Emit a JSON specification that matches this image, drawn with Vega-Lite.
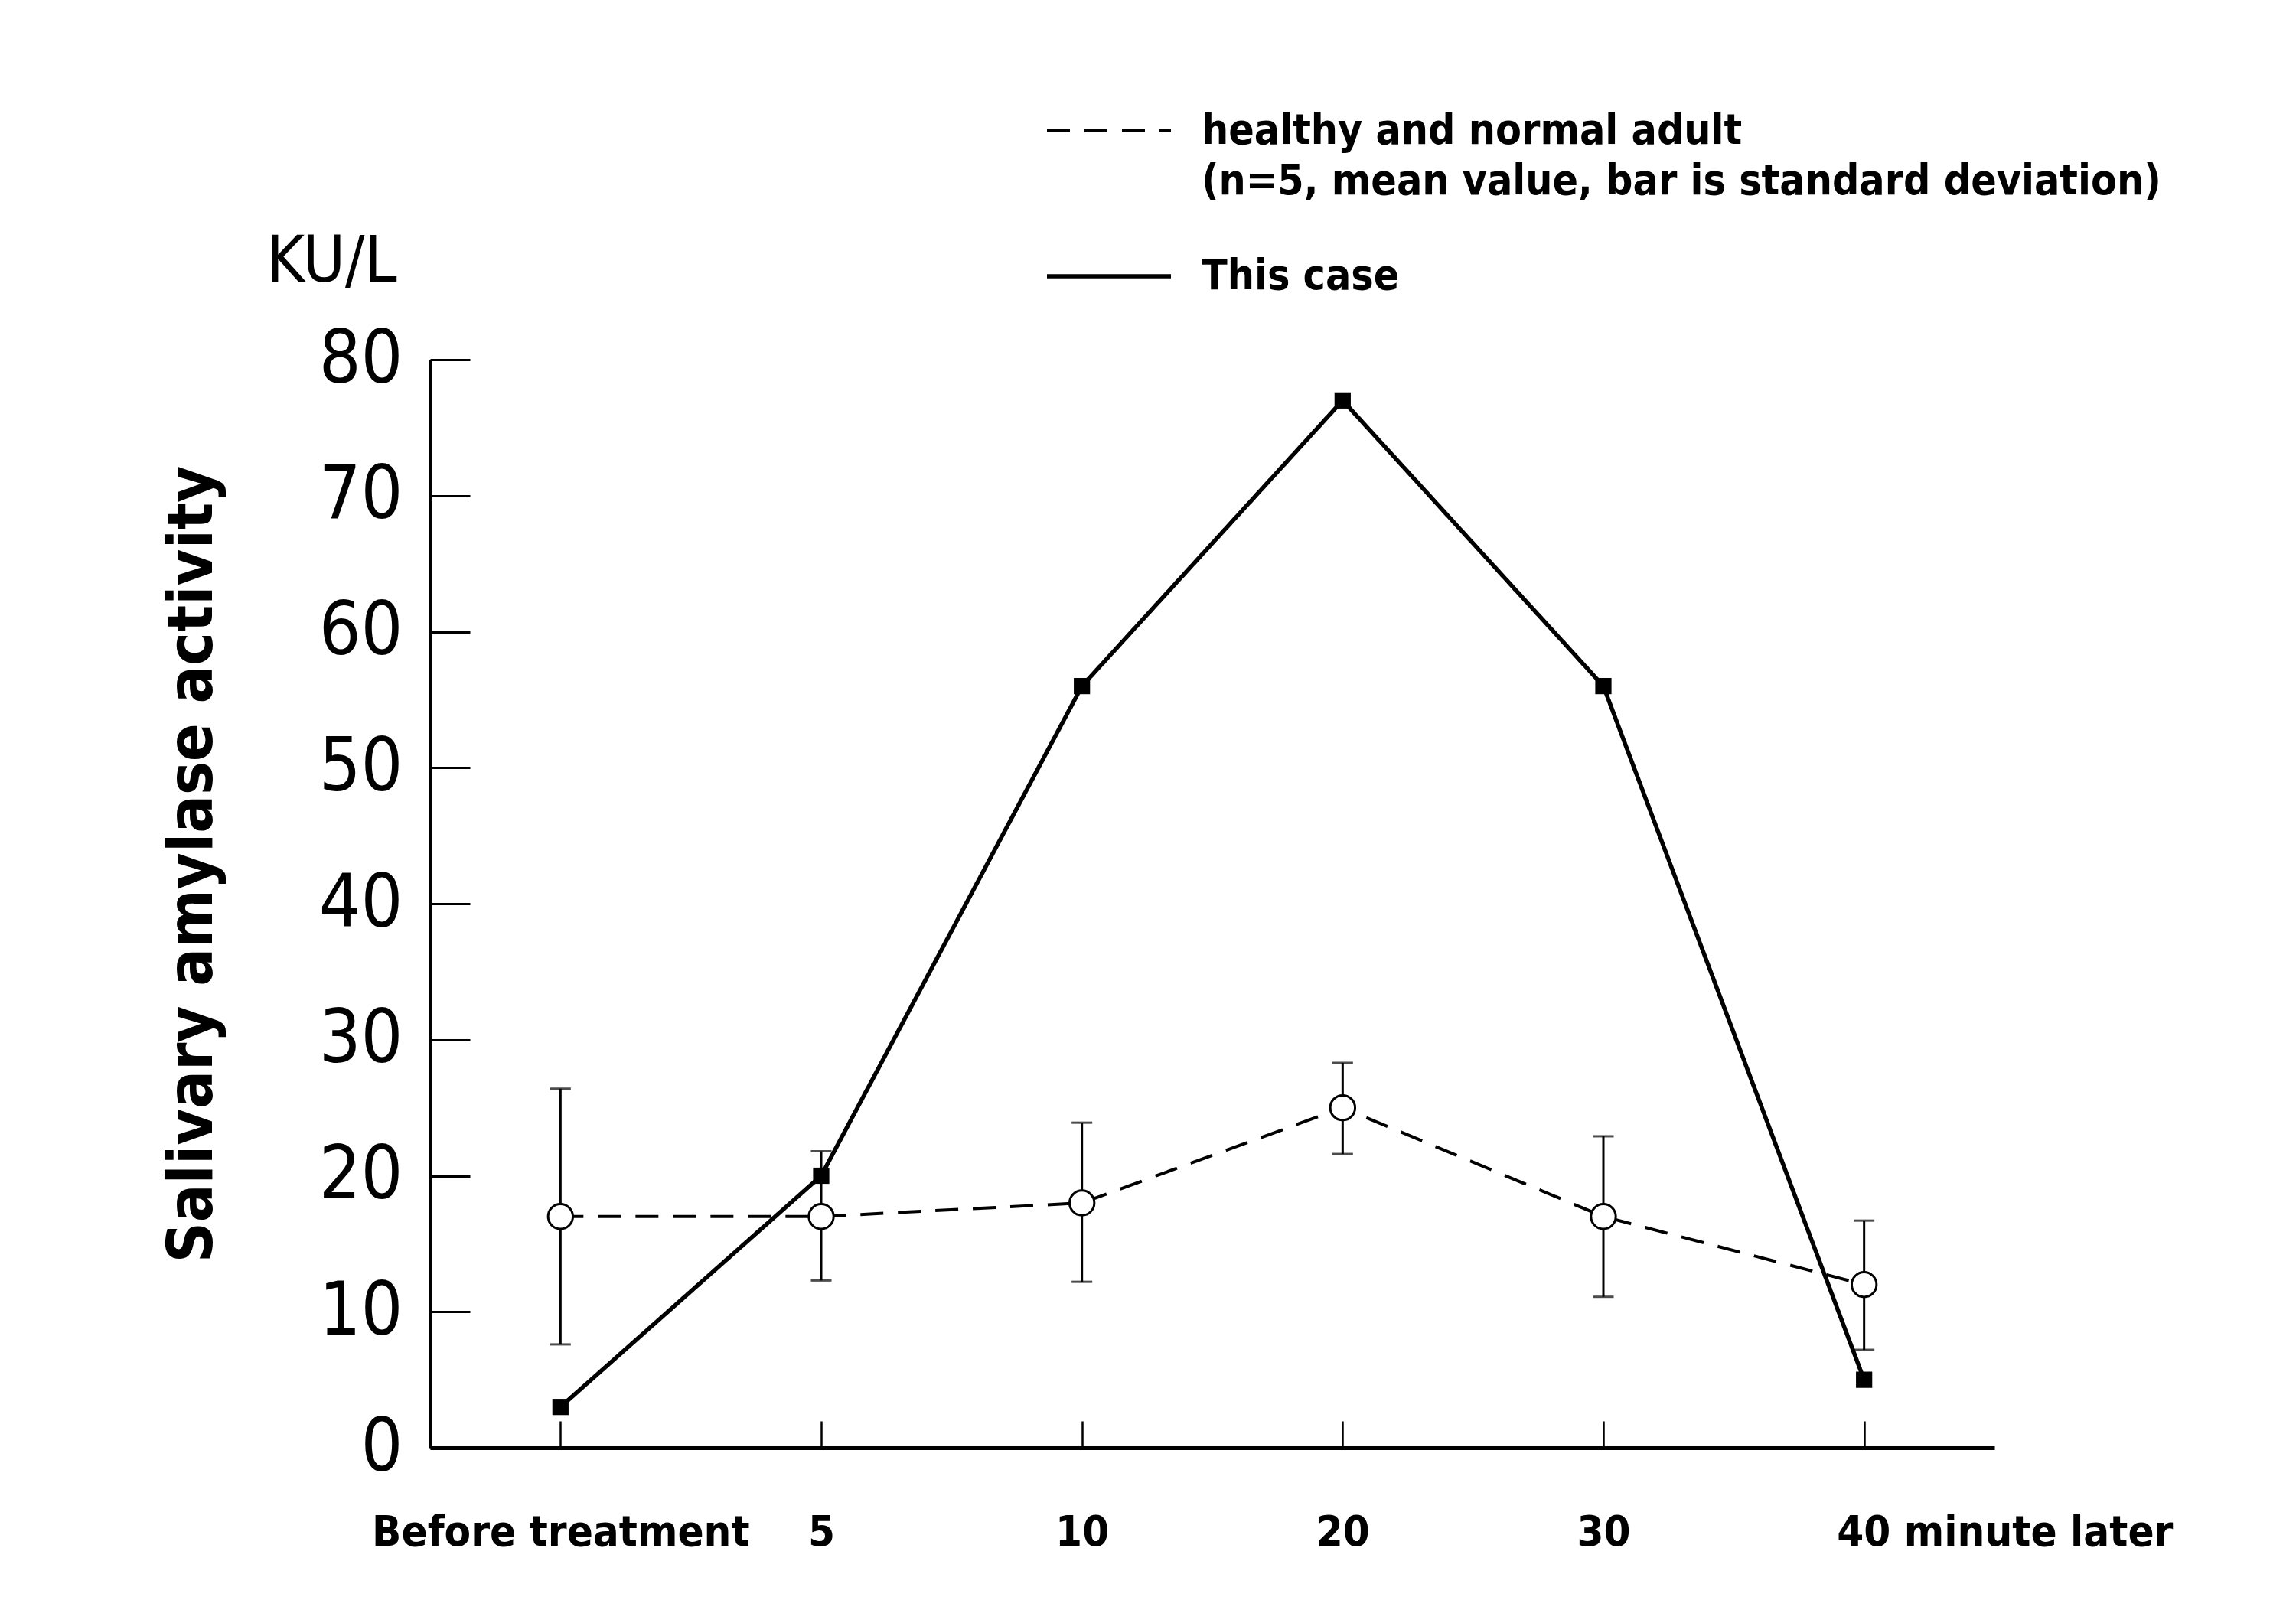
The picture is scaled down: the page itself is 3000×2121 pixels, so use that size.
{
  "$schema": "https://vega.github.io/schema/vega-lite/v6.json",
  "autosize": {"type": "none"},
  "padding": {"left": 562, "top": 470, "right": 394, "bottom": 229},
  "width": 2044,
  "height": 1422,
  "background": "white",
  "data": {
    "values": [
      {"time": "Before treatment", "series": "healthy and normal adult", "value": 17, "low": 7.6, "high": 26.4},
      {"time": "5", "series": "healthy and normal adult", "value": 17, "low": 12.3, "high": 21.8},
      {"time": "10", "series": "healthy and normal adult", "value": 18, "low": 12.2, "high": 23.9},
      {"time": "20", "series": "healthy and normal adult", "value": 25, "low": 21.6, "high": 28.3},
      {"time": "30", "series": "healthy and normal adult", "value": 17, "low": 11.1, "high": 22.9},
      {"time": "40", "series": "healthy and normal adult", "value": 12, "low": 7.2, "high": 16.7},
      {"time": "Before treatment", "series": "This case", "value": 3},
      {"time": "5", "series": "This case", "value": 20},
      {"time": "10", "series": "This case", "value": 56},
      {"time": "20", "series": "This case", "value": 77},
      {"time": "30", "series": "This case", "value": 56},
      {"time": "40", "series": "This case", "value": 5}
    ]
  },
  "encoding": {
    "x": {
      "field": "time",
      "type": "ordinal",
      "sort": ["Before treatment", "5", "10", "20", "30", "40"],
      "scale": {"type": "point", "padding": 0.5},
      "axis": {
        "title": null,
        "domainColor": "black",
        "domainWidth": 5,
        "tickColor": "black",
        "tickSize": -35,
        "tickWidth": 2.5,
        "labelAngle": 0,
        "labelColor": "black",
        "labelFont": "Liberation Sans Narrow, DejaVu Sans Condensed, sans-serif",
        "labelFontSize": 56,
        "labelFontWeight": "bold",
        "labelPadding": 118,
        "labelLimit": 0,
        "labelExpr": "datum.value == '40' ? '40 minute later' : datum.label",
        "labelAlign": {"condition": {"test": "datum.value == '40'", "value": "left"}, "value": "center"},
        "labelOffset": {"condition": {"test": "datum.value == '40'", "value": -36}, "value": 0}
      }
    }
  },
  "layer": [
    {
      "transform": [{"filter": "datum.series == 'healthy and normal adult'"}],
      "mark": {"type": "rule", "color": "black", "strokeWidth": 3},
      "encoding": {
        "y": {"field": "low", "type": "quantitative", "axis": null},
        "y2": {"field": "high"}
      }
    },
    {
      "transform": [{"filter": "datum.series == 'healthy and normal adult'"}],
      "mark": {"type": "tick", "color": "black", "size": 27, "thickness": 3},
      "encoding": {"y": {"field": "low", "type": "quantitative", "axis": null}}
    },
    {
      "transform": [{"filter": "datum.series == 'healthy and normal adult'"}],
      "mark": {"type": "tick", "color": "black", "size": 27, "thickness": 3},
      "encoding": {"y": {"field": "high", "type": "quantitative", "axis": null}}
    },
    {
      "mark": {"type": "line", "color": "black"},
      "encoding": {
        "y": {
          "field": "value",
          "type": "quantitative",
          "scale": {"domain": [0, 80], "nice": false},
          "axis": {
            "title": "Salivary amylase activity",
            "titleFont": "Liberation Sans Narrow, DejaVu Sans Condensed, sans-serif",
            "titleFontSize": 82,
            "titleFontWeight": "bold",
            "titleColor": "black",
            "titleAngle": -90,
            "titleAlign": "center",
            "titleBaseline": "middle",
            "titleX": -311,
            "titleY": 659,
            "values": [0, 10, 20, 30, 40, 50, 60, 70, 80],
            "grid": false,
            "domainColor": "black",
            "domainWidth": 3,
            "tickColor": "black",
            "tickSize": -52,
            "tickWidth": 3,
            "labelColor": "black",
            "labelFont": "Liberation Sans Narrow, DejaVu Sans Condensed, sans-serif",
            "labelFontSize": 96,
            "labelFontWeight": "normal",
            "labelPadding": 88
          }
        },
        "strokeWidth": {
          "field": "series",
          "type": "nominal",
          "scale": {"domain": ["healthy and normal adult", "This case"], "range": [4, 5.5]},
          "legend": null
        },
        "strokeDash": {
          "field": "series",
          "type": "nominal",
          "scale": {
            "domain": ["healthy and normal adult", "This case"],
            "range": [[30, 19], [1, 0]]
          },
          "legend": {
            "title": null,
            "orient": "none",
            "legendX": 803,
            "legendY": -382,
            "padding": 0,
            "symbolType": "stroke",
            "symbolSize": 26244,
            "symbolStrokeWidth": 4,
            "symbolStrokeColor": "black",
            "labelFont": "Liberation Sans Narrow, DejaVu Sans Condensed, sans-serif",
            "labelFontSize": 55,
            "labelFontWeight": "bold",
            "labelColor": "black",
            "labelOffset": 37,
            "labelLimit": 0,
            "rowPadding": 12,
            "labelExpr": "datum.label == 'healthy and normal adult' ? ['healthy and normal adult', '(n=5, mean value, bar is standard deviation)'] : datum.label",
            "encode": {
              "labels": {"update": {"lineHeight": {"value": 66}}},
              "symbols": {
                "update": {
                  "strokeDash": {"signal": "datum.value == 'This case' ? [1, 0] : [18, 13]"}
                }
              }
            }
          }
        }
      }
    },
    {
      "transform": [{"filter": "datum.series == 'healthy and normal adult'"}],
      "mark": {"type": "point", "shape": "circle", "filled": true, "fill": "white", "stroke": "black", "strokeWidth": 3, "size": 1050, "opacity": 1},
      "encoding": {
        "y": {
          "field": "value",
          "type": "quantitative",
          "axis": {
            "orient": "right",
            "title": "KU/L",
            "labels": false,
            "ticks": false,
            "domain": false,
            "grid": false,
            "titleFont": "Liberation Sans Narrow, DejaVu Sans Condensed, sans-serif",
            "titleFontSize": 84,
            "titleFontWeight": "normal",
            "titleColor": "black",
            "titleAngle": 0,
            "titleAlign": "center",
            "titleBaseline": "alphabetic",
            "titleX": -2173,
            "titleY": -103
          }
        }
      }
    },
    {
      "transform": [{"filter": "datum.series == 'This case'"}],
      "mark": {"type": "point", "shape": "square", "filled": true, "color": "black", "size": 450, "opacity": 1},
      "encoding": {"y": {"field": "value", "type": "quantitative", "axis": null}}
    }
  ],
  "resolve": {"axis": {"y": "independent"}},
  "config": {
    "view": {"stroke": null}
  }
}
